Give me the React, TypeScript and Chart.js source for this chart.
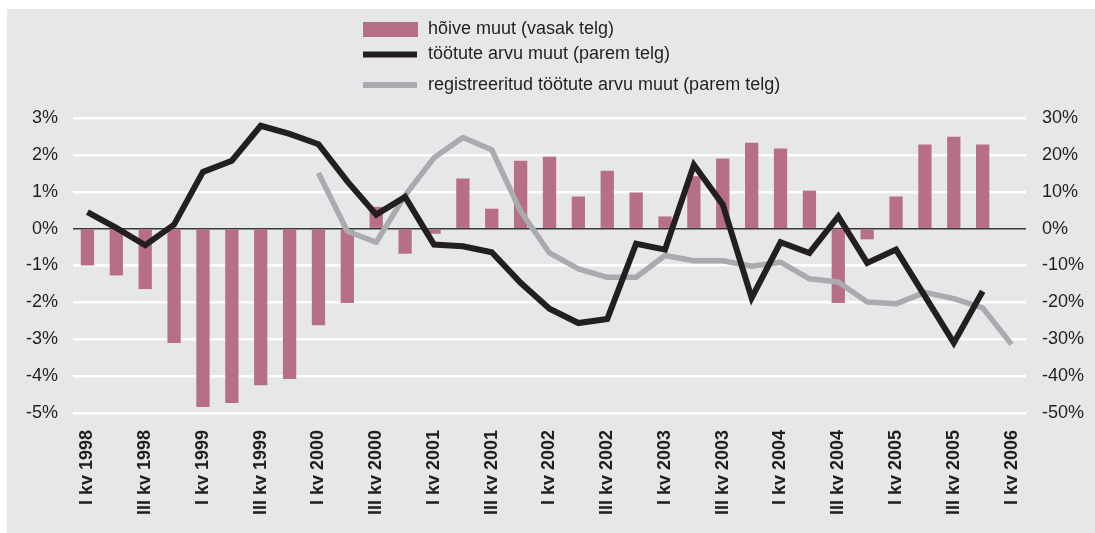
import React, { useEffect, useRef } from "react";
import { Chart, registerables } from "chart.js";

Chart.register(...registerables);

const quarterLabels = [
  "I kv 1998", "II kv 1998", "III kv 1998", "IV kv 1998",
  "I kv 1999", "II kv 1999", "III kv 1999", "IV kv 1999",
  "I kv 2000", "II kv 2000", "III kv 2000", "IV kv 2000",
  "I kv 2001", "II kv 2001", "III kv 2001", "IV kv 2001",
  "I kv 2002", "II kv 2002", "III kv 2002", "IV kv 2002",
  "I kv 2003", "II kv 2003", "III kv 2003", "IV kv 2003",
  "I kv 2004", "II kv 2004", "III kv 2004", "IV kv 2004",
  "I kv 2005", "II kv 2005", "III kv 2005", "IV kv 2005",
  "I kv 2006",
];

// hõive muut, % (left axis)
const employmentChange = [
  -1.0, -1.27, -1.64, -3.1, -4.84, -4.73, -4.25, -4.08,
  -2.62, -2.02, 0.59, -0.68, -0.14, 1.36, 0.54, 1.84,
  1.95, 0.87, 1.57, 0.98, 0.33, 1.42, 1.9, 2.33,
  2.17, 1.03, -2.02, -0.29, 0.87, 2.28, 2.49, 2.28,
  null,
];

// töötute arvu muut, % (right axis)
const unemployedChange = [
  4.5, 0.2, -4.5, 1.1, 15.4, 18.4, 27.9, 25.7,
  22.9, 12.8, 3.8, 8.6, -4.3, -4.8, -6.4, -14.7,
  -21.7, -25.6, -24.5, -4.1, -5.7, 17.3, 6.5, -18.8,
  -3.7, -6.6, 3.3, -9.3, -5.7, -18.3, -31.0, -17.0,
  null,
];

// registreeritud töötute arvu muut, % (right axis)
const registeredUnemployedChange = [
  null, null, null, null, null, null, null, null,
  15.1, -0.7, -3.7, 9.0, 19.2, 24.7, 21.4, 4.7,
  -6.6, -10.9, -13.2, -13.2, -7.3, -8.7, -8.7, -10.2,
  -9.1, -13.6, -14.5, -19.9, -20.4, -17.3, -19.0, -21.5,
  -31.4,
];

const leftTicks = [-5, -4, -3, -2, -1, 0, 1, 2, 3];
const rightTicks = [-50, -40, -30, -20, -10, 0, 10, 20, 30];

const seriesLabels = [
  "hõive muut (vasak telg)",
  "töötute arvu muut (parem telg)",
  "registreeritud töötute arvu muut (parem telg)",
];

const BAR = "#b76f88";
const BLACK = "#231f20";
const GRAY = "#a9abae";
const BG = "#e6e7e8";
const TEXT = "#231f20";
const FONT = "'Liberation Sans', Arial, Helvetica, sans-serif";

const W = 1088;
const H = 524;

const bgPlugin = {
  id: "bgFill",
  beforeDraw(chart: any) {
    const { ctx, width, height } = chart;
    ctx.save();
    ctx.fillStyle = BG;
    ctx.fillRect(0, 0, width, height);
    ctx.restore();
  },
};

const legendPlugin = {
  id: "customLegend",
  afterDraw(chart: any) {
    const { ctx } = chart;
    const rows = [20.5, 45.5, 76];
    const x0 = 356;
    const sw = 54;
    ctx.save();
    ctx.font = `18px ${FONT}`;
    ctx.textBaseline = "middle";
    ctx.textAlign = "left";
    chart.data.datasets.forEach((ds: any, i: number) => {
      const y = rows[i];
      if (ds.type === "bar") {
        ctx.fillStyle = ds.backgroundColor;
        ctx.fillRect(x0, y - 7.5, sw + 1, 15);
      } else {
        ctx.strokeStyle = ds.borderColor;
        ctx.lineWidth = 6;
        ctx.beginPath();
        ctx.moveTo(x0, y);
        ctx.lineTo(x0 + sw, y);
        ctx.stroke();
      }
      ctx.fillStyle = TEXT;
      ctx.fillText(ds.label, x0 + 65, y);
    });
    ctx.restore();
  },
};

export default function App() {
  const ref = useRef<HTMLCanvasElement | null>(null);

  useEffect(() => {
    document.documentElement.style.overflow = "hidden";
    if (!ref.current) return;
    const chart = new Chart(ref.current, {
      type: "bar",
      data: {
        labels: quarterLabels,
        datasets: [
          {
            type: "bar",
            label: seriesLabels[0],
            data: employmentChange,
            backgroundColor: BAR,
            yAxisID: "y",
            order: 3,
            categoryPercentage: 1,
            barPercentage: 0.46,
          },
          {
            type: "line",
            label: seriesLabels[1],
            data: unemployedChange,
            borderColor: BLACK,
            backgroundColor: BLACK,
            borderWidth: 6,
            pointRadius: 0,
            tension: 0,
            borderJoinStyle: "miter",
            yAxisID: "y1",
            order: 1,
          },
          {
            type: "line",
            label: seriesLabels[2],
            data: registeredUnemployedChange,
            borderColor: GRAY,
            backgroundColor: GRAY,
            borderWidth: 5.5,
            pointRadius: 0,
            tension: 0,
            borderJoinStyle: "round",
            yAxisID: "y1",
            order: 2,
          },
        ] as any,
      },
      plugins: [bgPlugin, legendPlugin],
      options: {
        responsive: false,
        animation: false,
        layout: { padding: { top: 109, left: 0, right: 0, bottom: 0 } },
        plugins: {
          legend: { display: false },
          tooltip: { enabled: false },
        },
        scales: {
          x: {
            offset: true,
            grid: { display: false, drawTicks: false },
            border: { display: false },
            ticks: {
              autoSkip: false,
              maxRotation: 90,
              minRotation: 90,
              padding: 17,
              color: TEXT,
              font: { family: FONT, size: 18, weight: "bold" },
              callback: (_v: any, i: number) => (i % 2 === 0 ? quarterLabels[i] : ""),
            },
            afterFit: (s: any) => {
              s.height = 120;
            },
          },
          y: {
            position: "left",
            min: leftTicks[0],
            max: leftTicks[leftTicks.length - 1],
            afterBuildTicks: (s: any) => {
              s.ticks = leftTicks.map((v) => ({ value: v }));
            },
            grid: {
              drawTicks: false,
              color: (c: any) => (c.tick && c.tick.value === 0 ? "#3a3637" : "#ffffff"),
              lineWidth: (c: any) => (c.tick && c.tick.value === 0 ? 1.5 : 2.5),
            },
            border: { display: false },
            ticks: {
              padding: 15,
              color: TEXT,
              font: { family: FONT, size: 18 },
              callback: (v: any) => `${v}%`,
            },
            afterFit: (s: any) => {
              s.width = 66;
            },
          },
          y1: {
            position: "right",
            min: rightTicks[0],
            max: rightTicks[rightTicks.length - 1],
            afterBuildTicks: (s: any) => {
              s.ticks = rightTicks.map((v) => ({ value: v }));
            },
            grid: { display: false, drawTicks: false },
            border: { display: false },
            ticks: {
              padding: 16,
              color: TEXT,
              font: { family: FONT, size: 18 },
              callback: (v: any) => `${v}%`,
            },
            afterFit: (s: any) => {
              s.width = 69;
            },
          },
        },
      } as any,
    });
    return () => chart.destroy();
  }, []);

  return (
    <div style={{ position: "absolute", left: 7, top: 9, width: W, height: H }}>
      <canvas ref={ref} width={W} height={H} style={{ display: "block" }} />
    </div>
  );
}
